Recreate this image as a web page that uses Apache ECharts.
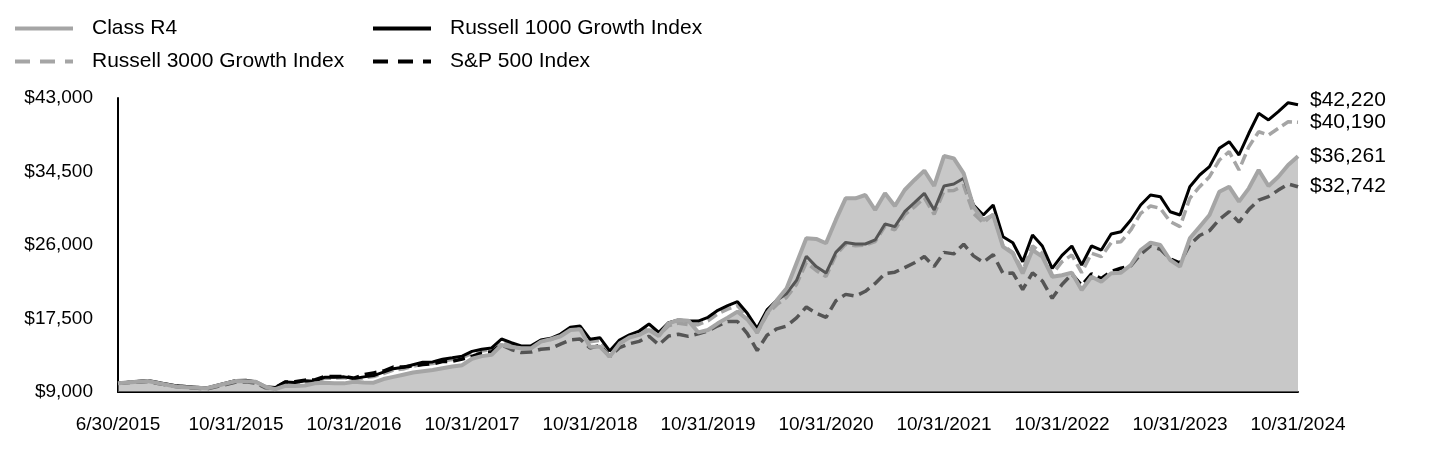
<!DOCTYPE html>
<html>
<head>
<meta charset="utf-8">
<script src="https://cdn.jsdelivr.net/npm/echarts@6/dist/echarts.min.js"></script>
<style>
html,body{margin:0;padding:0;background:#fff;}
#chart{width:1440px;height:468px;}
</style>
</head>
<body>
<div id="chart"></div>
<script>
// Axis tick labels (each labelled period gets an equal width on the x axis)
const xLabels = ['6/30/2015','10/31/2015','10/31/2016','10/31/2017','10/31/2018','10/31/2019','10/31/2020','10/31/2021','10/31/2022','10/31/2023','10/31/2024'];
const seriesNames = ['Class R4','Russell 1000 Growth Index','Russell 3000 Growth Index','S&P 500 Index'];

// Month-end values, 6/30/2015 .. 10/31/2024 (113 points)
const classR4 = [
  10000, 10270, 9610, 9430, 10270, 10250, 10180,
  9600, 9320, 9720, 9700, 9760, 10000, 10080, 10020, 10000, 10180, 10100, 10080,
  10500, 10750, 11000, 11250, 11400, 11545, 11750, 11950, 12100, 12850, 13150, 13300,
  14435, 14200, 14050, 14050, 14820, 15100, 15450, 16170, 16250, 14240, 14240, 13080,
  14600, 15300, 15600, 16170, 15475, 16945, 17325, 17250, 15900, 16170, 16945, 17600,
  18300, 17400, 15900, 18100, 19600, 21000, 23880, 26775, 26700, 26200, 28900, 31400,
  31400, 31780, 30050, 31980, 30510, 32360, 33520, 34600, 32825, 36290, 36020, 34290,
  30430, 28890, 29470, 25805, 25040, 22720, 25420, 24650, 22335, 22500, 22800, 20800,
  22335, 21755, 22725, 22800, 23690, 25420, 26265, 26000, 24265, 23490, 26775, 28120,
  29470, 32165, 32745, 31010, 32555, 34675, 32825, 33900, 35250, 36261
];
const russell1000G = [
  10000, 10340, 9710, 9470, 10340, 10360, 10200,
  9620, 9520, 10156, 10100, 10300, 10250, 10700, 10700, 10750, 10550, 10750, 10900,
  11300, 11700, 11850, 12150, 12450, 12480, 12800, 12950, 13150, 13700, 13950, 14100,
  15130, 14700, 14320, 14350, 15015, 15210, 15700, 16480, 16630, 15100, 15280, 13750,
  15000, 15600, 16050, 16865, 15900, 17015, 17325, 17200, 17200, 17640, 18450, 19000,
  19445, 18100, 16365, 18500, 19600, 20400, 21900, 24700, 23500, 22750, 25150, 26300,
  26115, 26115, 26580, 28430, 28120, 29850, 30900, 31980, 30050, 32825, 33055, 33715,
  30625, 29470, 30625, 26960, 26265, 24070, 27155, 25885, 23305, 24800, 25885, 23690,
  25885, 25420, 27270, 27540, 28890, 30625, 31780, 31590, 29850, 29470, 32745, 34095,
  35060, 37180, 37950, 36410, 38920, 41230, 40460, 41420, 42460, 42220
];
const russell3000G = [
  10000, 10330, 9690, 9430, 10280, 10310, 10120,
  9440, 9350, 9990, 9960, 10170, 10120, 10600, 10600, 10660, 10400, 10650, 10780,
  11140, 11530, 11660, 11960, 12230, 12300, 12600, 12750, 12980, 13480, 13740, 13880,
  14880, 14470, 14140, 14160, 14860, 15060, 15500, 16260, 16380, 14800, 14980, 13420,
  14730, 15350, 15760, 16520, 15560, 16660, 16960, 16800, 16780, 17230, 18050, 18580,
  18990, 17620, 15830, 17980, 19100, 19950, 21450, 23980, 23050, 22350, 24850, 26100,
  25900, 26000, 26400, 28150, 27750, 29500, 30400, 31450, 29550, 32250, 32300, 32900,
  29650, 28550, 29550, 25900, 25150, 23050, 25900, 25050, 22600, 24070, 24845, 22800,
  25040, 24650, 26265, 26380, 27735, 29665, 30510, 30245, 28700, 28120, 31400, 32745,
  33900, 35830, 36790, 34675, 37370, 39100, 38720, 39500, 40260, 40190
];
const sp500 = [
  10000, 10210, 9597, 9357, 10143, 10173, 10010,
  9510, 9500, 10146, 10187, 10370, 10401, 10786, 10797, 10797, 10603, 10995, 11215,
  11428, 11885, 11897, 12016, 12184, 12257, 12515, 12553, 12816, 13111, 13517, 13666,
  14445, 13911, 13563, 13617, 13944, 14028, 14547, 15027, 15117, 14089, 14371, 13078,
  14124, 14576, 14853, 15447, 14458, 15470, 15687, 15436, 15729, 16075, 16654, 17153,
  17153, 15747, 13794, 15560, 16307, 16633, 17564, 18829, 18113, 17624, 19545, 20288,
  20085, 20647, 21556, 22698, 22857, 23383, 23944, 24662, 23503, 25148, 24972, 26096,
  24739, 23997, 24885, 22720, 22766, 20854, 22772, 21839, 19830, 21436, 22636, 21323,
  22666, 22122, 22940, 23307, 23600, 24945, 25900, 25500, 24400, 23900, 26050, 27100,
  27650, 28950, 29850, 28650, 30100, 31200, 31600, 32350, 33050, 32742
];

// x position: the first 4 months fill the first labelled period, later periods hold 12 months
function xPos(i) { return i <= 4 ? i / 4 : 1 + (i - 4) / 12; }
function toPts(arr) { return arr.map((v, i) => [xPos(i), v]); }
function money(v) { return '$' + Math.round(v).toLocaleString('en-US'); }

const FONT = "'Liberation Sans', Arial, sans-serif";
const chart = echarts.init(document.getElementById('chart'));

function endLabel(offsetY) {
  return {
    show: true,
    formatter: p => money(p.value[1]),
    fontSize: 21, fontFamily: FONT, color: '#000',
    distance: 12, offset: [0, offsetY || 0]
  };
}
const hideSym = { opacity: 0, borderWidth: 0 };
function legendBlock(left, items) {
  return {
    orient: 'vertical', left: left, top: 18, padding: 0,
    itemWidth: 58, itemHeight: 20, itemGap: 12,
    textStyle: { fontSize: 21, fontFamily: FONT, color: '#000', padding: [0, 0, 0, 14] },
    data: items
  };
}

chart.setOption({
  animation: false,
  backgroundColor: '#fff',
  textStyle: { fontFamily: FONT },
  grid: { left: 118, right: 142, top: 98, bottom: 76, containLabel: false },
  legend: [
    legendBlock(13, [
      { name: seriesNames[0], itemStyle: hideSym, lineStyle: { width: 4, color: '#a5a5a5', type: 'solid' } },
      { name: seriesNames[2], itemStyle: hideSym, lineStyle: { width: 4, color: '#a5a5a5', type: [15, 10] } }
    ]),
    legendBlock(371, [
      { name: seriesNames[1], itemStyle: hideSym, lineStyle: { width: 4, color: '#000', type: 'solid' } },
      { name: seriesNames[3], itemStyle: hideSym, lineStyle: { width: 4, color: '#000', type: [15, 10] } }
    ])
  ],
  xAxis: {
    type: 'value', min: 0, max: 10, interval: 1,
    axisLine: { show: true, lineStyle: { color: '#000', width: 2 } },
    axisTick: { show: false },
    splitLine: { show: false },
    axisLabel: {
      formatter: v => xLabels[Math.round(v)] || '',
      fontSize: 19, fontFamily: FONT, color: '#000', margin: 23,
      showMinLabel: true, showMaxLabel: true
    }
  },
  yAxis: {
    type: 'value', min: 9000, max: 43000, interval: 8500,
    axisLine: { show: true, lineStyle: { color: '#000', width: 2 } },
    axisTick: { show: false },
    splitLine: { show: false },
    axisLabel: { formatter: v => money(v), fontSize: 19, fontFamily: FONT, color: '#000', margin: 25 }
  },
  series: [
    {
      name: seriesNames[2], type: 'line', z: 2, data: toPts(russell3000G), symbol: 'none',
      lineStyle: { color: '#a5a5a5', width: 3.5, type: [11, 5] },
      itemStyle: { color: '#a5a5a5' },
      endLabel: endLabel(0)
    },
    {
      name: seriesNames[3], type: 'line', z: 2, data: toPts(sp500), symbol: 'none',
      lineStyle: { color: '#000', width: 3.5, type: [12, 6] },
      itemStyle: { color: '#000' },
      endLabel: endLabel(0)
    },
    {
      name: seriesNames[1], type: 'line', z: 2, data: toPts(russell1000G), symbol: 'none',
      lineStyle: { color: '#000', width: 3 },
      itemStyle: { color: '#000' },
      endLabel: endLabel(-5)
    },
    {
      name: seriesNames[0], type: 'line', z: 5, data: toPts(classR4), symbol: 'none',
      lineStyle: { color: '#a5a5a5', width: 4 },
      itemStyle: { color: '#a5a5a5' },
      areaStyle: { color: '#9a9a9a', opacity: 0.55 },
      endLabel: endLabel(0)
    }
  ]
});
</script>
</body>
</html>
